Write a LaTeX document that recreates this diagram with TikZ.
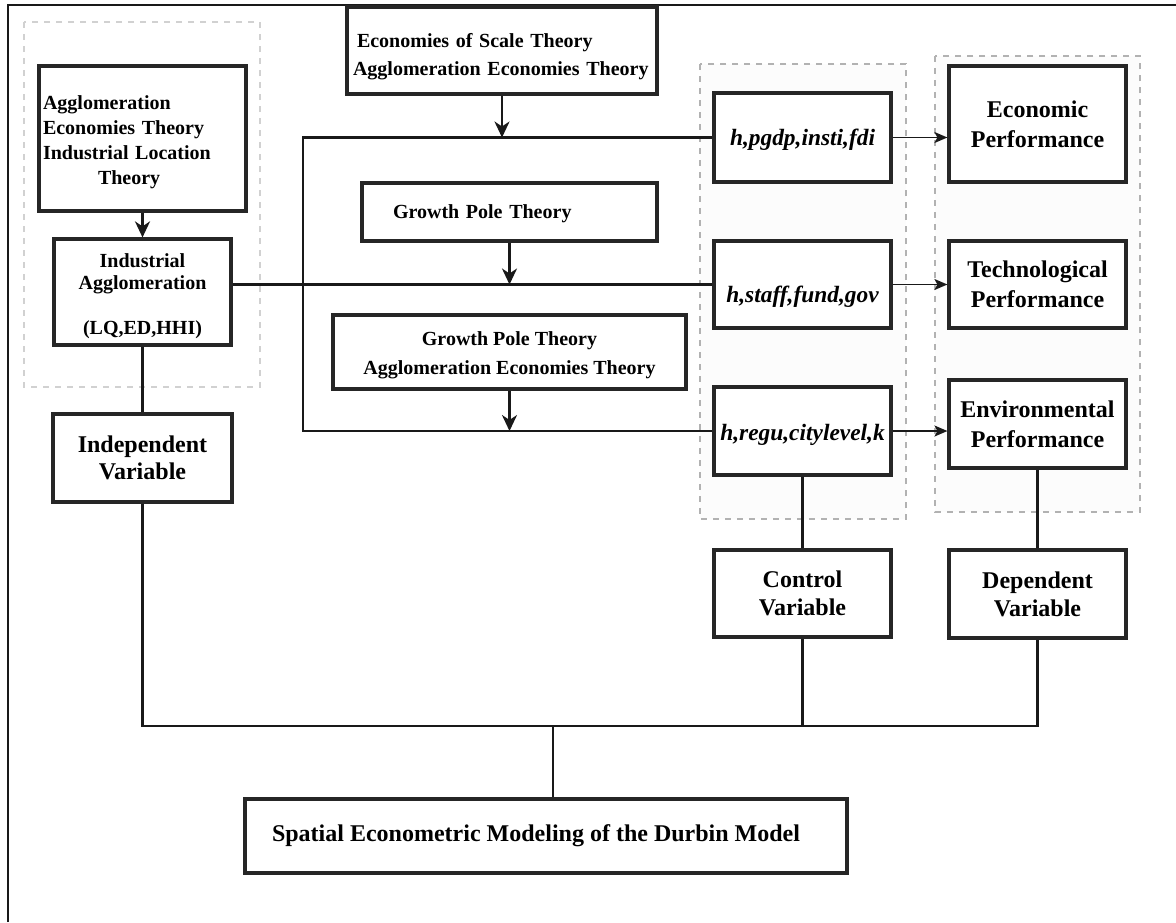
\documentclass[tikz,border=0pt]{standalone}
\usepackage{fontspec}
\setmainfont{Liberation Serif}
\usetikzlibrary{arrows.meta}
\newcommand{\shiftdown}[2]{\raisebox{-#1}[\height][\depth]{#2}}
\newcommand{\lblock}[1]{\begin{tabular}{@{}l@{}}#1\end{tabular}}
\newcommand{\cblock}[1]{\begin{tabular}{@{}c@{}}#1\end{tabular}}
\begin{document}
\begin{tikzpicture}[x=0.5pt,y=-0.5pt,
  box/.style={draw=black!85, line width=1.6pt, fill=white, inner sep=0pt, align=center},
  small/.style={font=\bfseries\fontsize{10}{14}\selectfont},
  hv/.style={font=\bfseries\itshape\fontsize{11.7}{14}\selectfont},
  sz/.style={minimum width=88.5pt, minimum height=#1},
  conn/.style={line width=1.25pt, draw=black!90},
  arr/.style={conn, -{Stealth[length=8pt,width=7.5pt,inset=2.5pt]}},
  thinarr/.style={line width=0.8pt, draw=black!90, -{Stealth[length=6.5pt,width=5.5pt,inset=1.5pt]}},
  grp/.style={draw=black!30, dash pattern=on 3pt off 3pt, line width=1pt, fill=black!1},
]
\useasboundingbox (0,0) rectangle (1176,922);
\fill[white] (0,0) rectangle (1176,922);
% outer frame (only top and left edges visible)
\draw[line width=1.3pt, black!90] (8,922) -- (8,5) -- (1176,5);

% dashed groups
\draw[grp, draw=black!18, fill=white] (24,22) rectangle (260,387);
\draw[grp] (700,64) rectangle (906,519);
\draw[grp] (935,56) rectangle (1140,512);

% nodes
\node[box, minimum width=103.5pt, minimum height=72.5pt, text width=99.5pt, align=left,
      font=\bfseries\fontsize{10}{12.5}\selectfont] (theoryA) at (142.5,138.5)
  {\shiftdown{1.8pt}{\lblock{Agglomeration\\Economies Theory\\Industrial Location\\\hspace*{27.5pt}Theory}}};
\node[box, small, minimum width=155pt, minimum height=43.5pt, text width=149pt, align=left] (econ) at (502,50.5)
  {\shiftdown{2.7pt}{\lblock{\hspace*{2pt}Economies of Scale Theory\\Agglomeration Economies Theory}}};
\node[box, small, minimum width=147.5pt, minimum height=29pt, text width=116.5pt, align=left] (gp1) at (509.5,212)
  {\shiftdown{1pt}{Growth Pole Theory}};
\node[box, font=\bfseries\fontsize{10}{14.5}\selectfont, minimum width=176.5pt, minimum height=37pt] (gp2) at (509.5,352)
  {\shiftdown{1pt}{\cblock{Growth Pole Theory\\Agglomeration Economies Theory}}};
\node[box, font=\bfseries\fontsize{10}{11.25}\selectfont, minimum width=88.5pt, minimum height=53pt] (ind) at (142.5,292)
  {\shiftdown{2.2pt}{\cblock{Industrial\\Agglomeration\\[11.25pt](LQ,ED,HHI)}}};
\node[box, font=\bfseries\fontsize{12}{13.5}\selectfont, minimum width=89.5pt, minimum height=44pt] (indep) at (142.5,458)
  {Independent\\Variable};

\node[box, hv, sz=44.5pt] (hp) at (802.5,137.5) {\shiftdown{1.2pt}{h,pgdp,insti,fdi}};
\node[box, hv, sz=43.5pt] (hs) at (802.5,284.5) {\shiftdown{6.25pt}{h,staff,fund,gov}};
\node[box, hv, sz=44pt] (hr) at (802.5,431) {\shiftdown{2pt}{h,regu,citylevel,k}};

\node[box, font=\bfseries\fontsize{12}{15}\selectfont, sz=58pt] (ep) at (1037.5,124) {Economic\\Performance};
\node[box, font=\bfseries\fontsize{12}{15}\selectfont, sz=43.5pt] (tp) at (1037.5,284.5) {Technological\\Performance};
\node[box, font=\bfseries\fontsize{12}{15}\selectfont, sz=44pt] (envp) at (1037.5,424) {Environmental\\Performance};

\node[box, font=\bfseries\fontsize{12}{14}\selectfont, sz=43.5pt] (ctrl) at (802.5,593.5) {Control\\Variable};
\node[box, font=\bfseries\fontsize{12}{14}\selectfont, sz=44pt] (dep) at (1037.5,594) {Dependent\\Variable};

\node[box, font=\bfseries\fontsize{12}{15}\selectfont, minimum width=301pt, minimum height=37pt] (sdm) at (546,836)
  {Spatial Econometric Modeling of the Durbin Model\hspace*{10pt}};

% junction coordinates
\coordinate (lt) at (303,137.5);
\coordinate (lb) at (303,431);
\coordinate (busL) at (142.5,726);
\coordinate (busM) at (553,726);
\coordinate (busR) at (1037.5,726);

% connectors
\draw[arr] (theoryA.south) -- (ind.north);
\draw[conn] (ind.south) -- (indep.north);
\draw[conn] (indep.south) -- (busL) -- (busR) -- (dep.south);
\draw[conn] (ctrl.south) -- (ctrl.south |- busL);
\draw[conn] (busM) -- (busM |- sdm.north);
\draw[conn] (hr.south) -- (ctrl.north);
\draw[conn] (envp.south) -- (dep.north);
\draw[conn] (hp.west) -- (lt) -- (lb) -- (hr.west);
\draw[conn] (ind.east |- hs.west) -- (hs.west);
\draw[arr] (econ.south) -- (econ.south |- lt);
\draw[arr] (gp1.south) -- (gp1.south |- hs.west);
\draw[arr] (gp2.south) -- (gp2.south |- lb);
\draw[thinarr] (hp.east) -- (hp.east -| ep.west);
\draw[thinarr] (hs.east) -- (tp.west);
\draw[thinarr] (hr.east) -- (hr.east -| envp.west);
\end{tikzpicture}
\end{document}
